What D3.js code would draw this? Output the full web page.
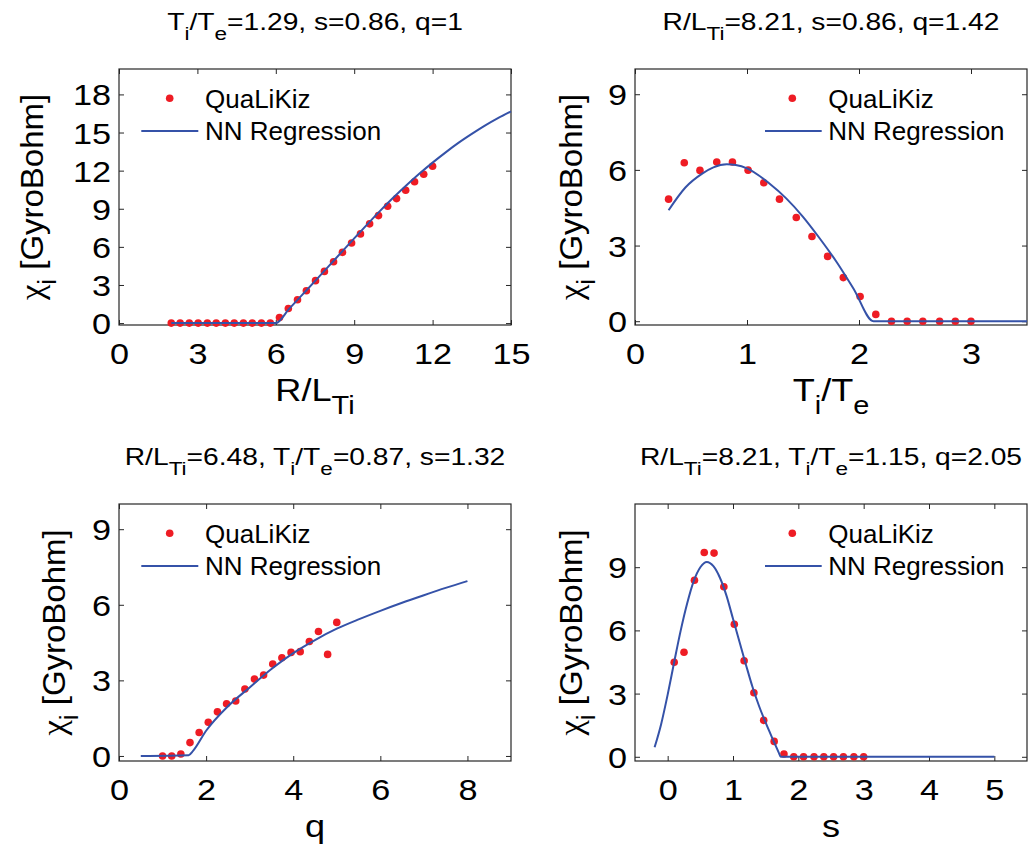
<!DOCTYPE html>
<html><head><meta charset="utf-8">
<script src="https://cdn.jsdelivr.net/npm/d3@7"></script>
<style>
body{margin:0;background:#fff}
text{font-family:"Liberation Sans",Arial,Helvetica,sans-serif;fill:#000}
</style>
</head><body>
<svg id="c" width="1028" height="847"></svg>
<script>
// ---------------- DATA ----------------
// Panel 1: chi_i vs R/L_Ti
const p1QualX = [2.00,2.34,2.69,3.03,3.38,3.72,4.07,4.41,4.76,5.10,5.45,5.79,6.14,6.48,6.83,7.17,7.52,7.86,8.21,8.55,8.90,9.24,9.59,9.93,10.28,10.62,10.97,11.31,11.66,12.00];
const p1QualY = [0,0,0,0,0,0,0,0,0,0,0,0,0.44,1.15,1.84,2.55,3.34,4.07,4.83,5.57,6.31,7.02,7.81,8.46,9.20,9.80,10.46,11.12,11.72,12.35];
const p1NNX = [2.0,6.0,6.5,7.0,7.5,8.0,8.5,9.0,9.5,10.0,10.5,11.0,11.5,12.0,12.5,13.0,13.5,14.0,14.5,15.0];
const p1NNY = [0,0,1.1,2.2,3.3,4.42,5.55,6.67,7.77,8.85,9.88,10.85,11.77,12.63,13.44,14.2,14.89,15.54,16.13,16.66];

// Panel 2: chi_i vs Ti/Te
const p2QualX = [0.30,0.44,0.58,0.73,0.87,1.01,1.15,1.29,1.44,1.58,1.72,1.86,2.01,2.15,2.29,2.43,2.57,2.72,2.86,3.00];
const p2QualY = [4.84,6.28,5.98,6.31,6.31,5.99,5.49,4.84,4.11,3.36,2.57,1.73,0.98,0.27,0,0,0,0,0,0];
const p2NNX = [0.30,0.45,0.60,0.70,0.82,0.90,1.00,1.20,1.35,1.50,1.65,1.80,1.95,2.13,3.50];
const p2NNY = [4.40,5.30,5.85,6.10,6.22,6.19,6.06,5.46,4.87,4.14,3.28,2.35,1.30,0,0];

// Panel 3: chi_i vs q
const p3QualX = [1.00,1.21,1.42,1.63,1.84,2.05,2.26,2.47,2.68,2.89,3.11,3.32,3.53,3.74,3.95,4.16,4.37,4.58,4.79,5.00];
const p3QualY = [0,0,0.08,0.53,0.93,1.34,1.75,2.07,2.18,2.66,3.05,3.21,3.65,3.90,4.11,4.14,4.54,4.94,4.03,5.30];
const p3NNX = [0.5,1.6,1.7,2.0,2.5,3.0,3.5,4.0,4.5,5.0,5.5,6.0,6.5,7.0,7.5,8.0];
const p3NNY = [0,0.03,0.2,1.0,1.97,2.72,3.45,4.08,4.6,5.05,5.42,5.76,6.08,6.38,6.67,6.94];

// Panel 4: chi_i vs s
const p4QualX = [0.10,0.25,0.41,0.56,0.71,0.86,1.02,1.17,1.32,1.47,1.63,1.78,1.93,2.08,2.24,2.39,2.54,2.69,2.85,3.00];
const p4QualY = [4.49,4.96,8.38,9.70,9.67,8.07,6.29,4.56,3.04,1.73,0.73,0.13,0,0,0,0,0,0,0,0];
const p4NNX = [-0.2,-0.1,0.0,0.1,0.2,0.3,0.4,0.5,0.6,0.7,0.8,0.9,1.0,1.1,1.2,1.3,1.4,1.5,1.6,1.7,1.73,5.0];
const p4NNY = [0.45,1.55,2.95,4.5,6.0,7.3,8.35,9.0,9.25,9.05,8.5,7.65,6.55,5.45,4.35,3.3,2.4,1.62,0.9,0.2,0,0];

// Tick values
const p1XTicks = [0,3,6,9,12,15], p1YTicks = [0,3,6,9,12,15,18];
const p2XTicks = [0,1,2,3],       p2YTicks = [0,3,6,9];
const p3XTicks = [0,2,4,6,8],     p3YTicks = [0,3,6,9];
const p4XTicks = [0,1,2,3,4,5],   p4YTicks = [0,3,6,9];

// Text (segments: [text, kind]) kind: 0 normal, 1 subscript, 2 greek
const legendLabels = ["QuaLiKiz", "NN Regression"];
const yLabel = [["\u03C7",2],["i",1],[" [GyroBohm]",0]];
const title1 = [["T",0],["i",1],["/T",0],["e",1],["=1.29, s=0.86, q=1",0]];
const title2 = [["R/L",0],["Ti",1],["=8.21, s=0.86, q=1.42",0]];
const title3 = [["R/L",0],["Ti",1],["=6.48, T",0],["i",1],["/T",0],["e",1],["=0.87, s=1.32",0]];
const title4 = [["R/L",0],["Ti",1],["=8.21, T",0],["i",1],["/T",0],["e",1],["=1.15, q=2.05",0]];
const xLabel1 = [["R/L",0],["Ti",1]];
const xLabel2 = [["T",0],["i",1],["/T",0],["e",1]];
const xLabel3 = [["q",0]];
const xLabel4 = [["s",0]];

// ---------------- LAYOUT ----------------
const RED = "#ee1c24", BLUE = "#3552a8", AXIS = "#262626";
const panels = [
  {left:119, top:69,  w:392, h:256, xDom:[0,15],   yDom:[-0.15,20], xT:p1XTicks, yT:p1YTicks, qx:p1QualX, qy:p1QualY, nx:p1NNX, ny:p1NNY, title:title1, xl:xLabel1, ylOff:-76, legRight:false},
  {left:635, top:69,  w:392, h:256, xDom:[0,3.5],  yDom:[-0.15,10], xT:p2XTicks, yT:p2YTicks, qx:p2QualX, qy:p2QualY, nx:p2NNX, ny:p2NNY, title:title2, xl:xLabel2, ylOff:-53, legRight:true},
  {left:119, top:504, w:392, h:257, xDom:[0,9],    yDom:[-0.2,10],  xT:p3XTicks, yT:p3YTicks, qx:p3QualX, qy:p3QualY, nx:p3NNX, ny:p3NNY, title:title3, xl:xLabel3, ylOff:-54, legRight:false},
  {left:635, top:504, w:392, h:257, xDom:[-0.5,5.5],yDom:[-0.2,12], xT:p4XTicks, yT:p4YTicks, qx:p4QualX, qy:p4QualY, nx:p4NNX, ny:p4NNY, title:title4, xl:xLabel4, ylOff:-53, legRight:true}
];

const svg = d3.select("#c");
const SUBSCALE = 0.8, SUBSHIFT = 0.42;

function rich(textSel, parts, fs) {
  let shifted = false;
  parts.forEach(([t, kind]) => {
    const ts = textSel.append("tspan").text(t);
    if (kind === 2) ts.attr("font-family", "'Liberation Serif','Times New Roman',serif").attr("font-size", fs*1.05);
    if (kind === 1 && !shifted) { ts.attr("dy", SUBSHIFT*fs).attr("font-size", fs*SUBSCALE); shifted = true; }
    else if (kind === 1) { ts.attr("font-size", fs*SUBSCALE); }
    else if (kind !== 1 && shifted) { ts.attr("dy", -SUBSHIFT*fs); shifted = false; }
  });
}

panels.forEach(p => {
  const g = svg.append("g").attr("transform", `translate(${p.left},${p.top})`);
  const x = d3.scaleLinear().domain(p.xDom).range([0, p.w]);
  const y = d3.scaleLinear().domain(p.yDom).range([p.h, 0]);

  // axes with inward ticks on all sides
  const TS = 5;
  const bx = g.append("g").attr("transform", `translate(0,${p.h})`)
    .call(d3.axisBottom(x).tickValues(p.xT).tickSize(-TS).tickSizeOuter(0).tickFormat(d3.format("d")));
  const ly = g.append("g")
    .call(d3.axisLeft(y).tickValues(p.yT).tickSize(-TS).tickSizeOuter(0).tickFormat(d3.format("d")));
  g.append("g").call(d3.axisTop(x).tickValues(p.xT).tickSize(-TS).tickSizeOuter(0).tickFormat(""));
  g.append("g").attr("transform", `translate(${p.w},0)`)
    .call(d3.axisRight(y).tickValues(p.yT).tickSize(-TS).tickSizeOuter(0).tickFormat(""));
  g.selectAll(".domain").remove();
  g.selectAll(".tick line").attr("stroke", AXIS).attr("stroke-width", 1);

  const SX = 1.18, TFS = 29;
  bx.attr("font-size", null).attr("font-family", null);
  bx.selectAll("text").attr("y", 39).attr("dy", null)
    .attr("font-size", TFS).attr("fill", "#000")
    .attr("transform", `scale(${SX},1)`);
  ly.attr("font-size", null).attr("font-family", null);
  ly.selectAll("text").attr("x", -8/SX).attr("dy", null).attr("y", 10.5)
    .attr("font-size", TFS).attr("fill", "#000")
    .attr("transform", `scale(${SX},1)`);

  g.append("rect").attr("x",0).attr("y",0).attr("width",p.w).attr("height",p.h)
    .attr("fill","none").attr("stroke",AXIS).attr("stroke-width",1.2);

  // data: points then NN line
  const pts = p.qx.map((v,i)=>[v,p.qy[i]]);
  g.append("g").selectAll("circle").data(pts).join("circle")
    .attr("cx", d=>x(d[0])).attr("cy", d=>y(d[1])).attr("r", 3.8).attr("fill", RED);
  const lineData = p.nx.map((v,i)=>[v,p.ny[i]]);
  g.append("path").datum(lineData)
    .attr("d", d3.line().x(d=>x(d[0])).y(d=>y(d[1])).curve(d3.curveMonotoneX))
    .attr("fill","none").attr("stroke",BLUE).attr("stroke-width",2);

  // title
  const tfs = 23.5;
  const tt = g.append("text").attr("text-anchor","middle").attr("font-size", tfs)
    .attr("transform", `translate(${p.w/2},-39) scale(1.2,1)`);
  rich(tt, p.title, tfs);

  // x label
  const xfs = 32;
  const xt = g.append("text").attr("text-anchor","middle").attr("font-size", xfs)
    .attr("transform", `translate(${p.w/2},${p.h+76}) scale(1.13,1)`);
  rich(xt, p.xl, xfs);

  // y label
  const yt = g.append("text").attr("text-anchor","middle").attr("font-size", xfs)
    .attr("transform", `translate(${p.ylOff},${p.h/2}) rotate(-90) scale(1.03,1)`);
  rich(yt, yLabel, xfs);

  // legend
  const lfs = 26;
  const mx = p.legRight ? 157.3 : 50.7;
  const l0 = p.legRight ? 130 : 22.3, l1 = p.legRight ? 186.7 : 79.3;
  const tx = p.legRight ? 193.3 : 86;
  g.append("circle").attr("cx", mx).attr("cy", 29.3).attr("r", 3.8).attr("fill", RED);
  g.append("line").attr("x1", l0).attr("x2", l1).attr("y1", 62).attr("y2", 62)
    .attr("stroke", BLUE).attr("stroke-width", 2);
  g.append("text").attr("x", tx).attr("y", 38.5).attr("font-size", lfs).text(legendLabels[0]);
  g.append("text").attr("x", tx).attr("y", 70.5).attr("font-size", lfs).text(legendLabels[1]);
});
</script>
</body></html>
